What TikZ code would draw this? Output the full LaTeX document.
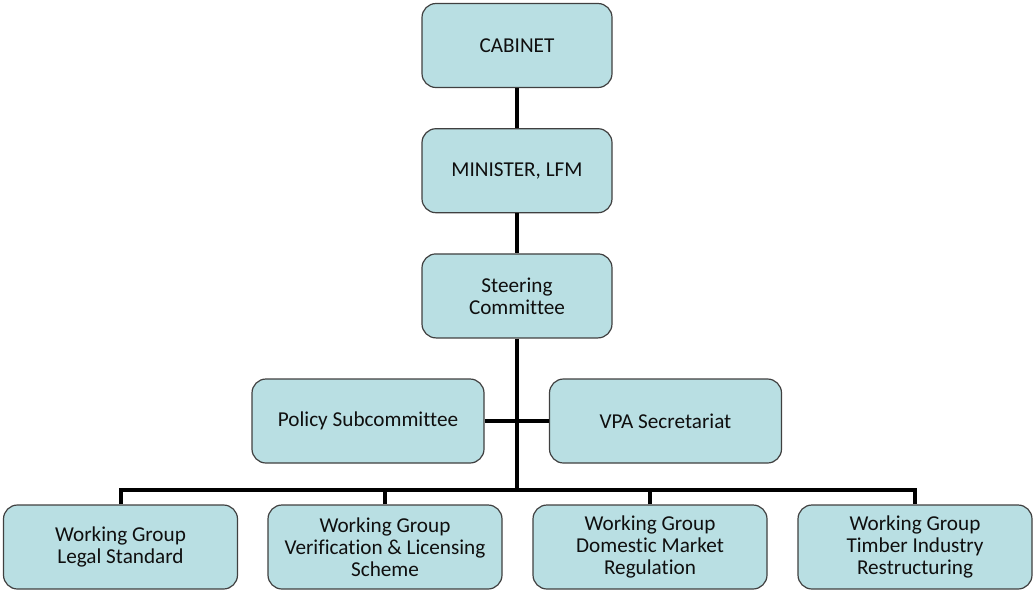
\documentclass[tikz,border=0pt]{standalone}
\usepackage{fontspec}
\setmainfont{Carlito}[Ligatures=NoCommon]
\usetikzlibrary{positioning}
\definecolor{boxfill}{RGB}{185,223,227}
\definecolor{boxline}{RGB}{64,64,64}
\definecolor{ink}{RGB}{15,15,15}
\begin{document}
\begin{tikzpicture}[
  x=1pt, y=-1pt,
  font=\fontsize{21.2}{22}\selectfont,
  unit/.style={rounded corners=14pt, draw=boxline, line width=1.2pt, fill=boxfill, text=ink, align=center, minimum height=84pt, inner sep=2pt},
  top/.style={unit, minimum width=190pt},
  mid/.style={unit, minimum width=232pt},
  wg/.style={unit, minimum width=234pt},
  link/.style={line width=4pt, draw=black},
]
\useasboundingbox (0,0) rectangle (1034,590);

% ---- chain of command ----
\node[top] (CAB) at (517,45.5) {CABINET};
\node[top, below=40pt of CAB] (MIN) {MINISTER, LFM};
\node[top, below=40pt of MIN] (STE) {Steering\\Committee};

% ---- support units ----
\node[mid] (POL) at (368,421) {Policy Subcommittee};
\node[mid] (VPA) at (665.5,421) {VPA Secretariat};

% ---- working groups ----
\node[wg] (WG1) at (120.5,547) {Working Group\\Legal Standard};
\node[wg] (WG2) at (385,547) {Working Group\\Verification \& Licensing\\Scheme};
\node[wg] (WG3) at (650,547) {Working Group\\Domestic Market\\Regulation};
\node[wg] (WG4) at (915,547) {Working Group\\Timber Industry\\Restructuring};

\coordinate (BUS) at (517,490);

% ---- connectors ----
\draw[link] (CAB) -- (MIN);
\draw[link] (MIN) -- (STE);
\draw[link] (STE.south) -- (BUS);
\draw[link] (POL.east) -- (POL.east -| STE.south);
\draw[link] (VPA.west) -- (VPA.west -| STE.south);
\draw[link] (WG1.north) |- (WG4.north |- BUS) -- (WG4.north);
\draw[link] (WG2.north) -- (WG2.north |- BUS);
\draw[link] (WG3.north) -- (WG3.north |- BUS);

\end{tikzpicture}
\end{document}
